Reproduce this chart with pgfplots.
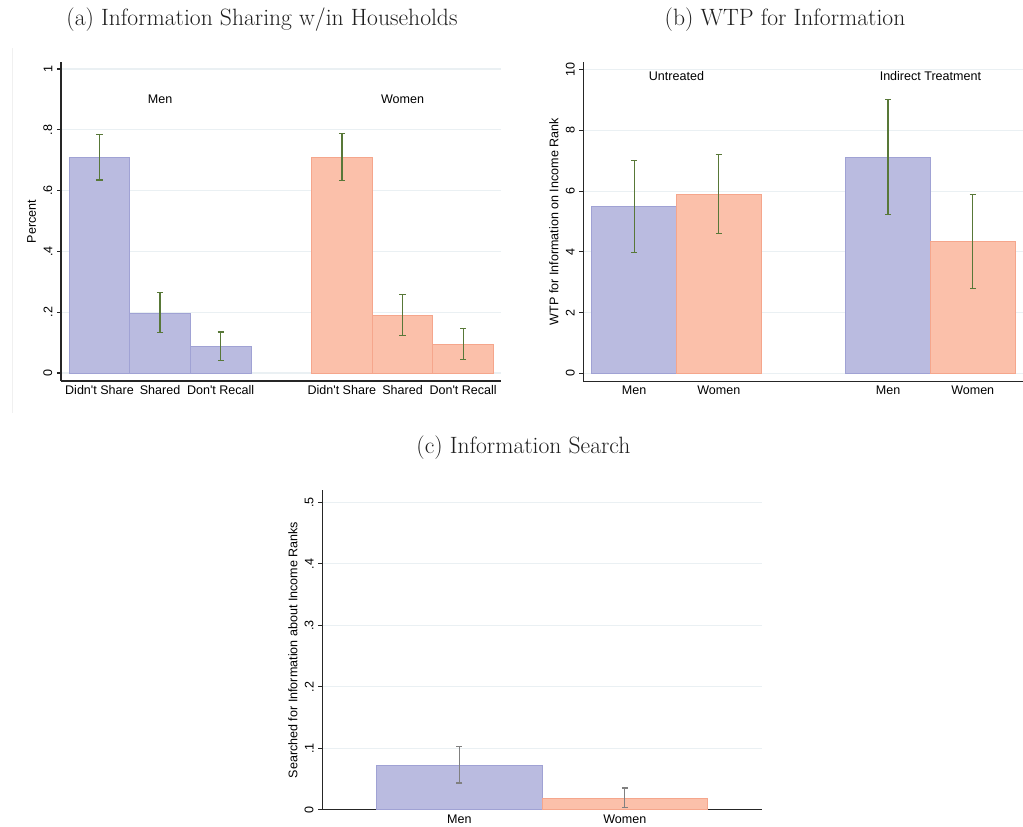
\documentclass[border=0pt]{standalone}
\usepackage{fontspec}
\usepackage{pgfplots}
\pgfplotsset{compat=1.18}
\newfontfamily\sansf[Ligatures=TeXOff]{Liberation Sans}
\definecolor{barblue}{RGB}{186,187,224}
\definecolor{edgeblue}{RGB}{160,162,212}
\definecolor{barsalmon}{RGB}{251,192,170}
\definecolor{edgesalmon}{RGB}{245,166,140}
\definecolor{errgreen}{RGB}{88,120,56}
\definecolor{errgray}{RGB}{128,128,128}
\definecolor{gridc}{RGB}{234,240,243}
\definecolor{titlec}{RGB}{30,30,30}
\pgfplotsset{
  stata/.style={
    scale only axis,
    anchor=south west,
    font=\sansf\fontsize{9.4}{11}\selectfont,
    axis x line*=bottom, axis y line*=left,
    axis line style={-, line width=0.8pt, black!85},
    ymajorgrids, grid style={gridc, line width=0.8pt},
    tick align=outside, major tick length=3pt,
    ytick style={black!85, line width=0.8pt},
    xtick style={draw=none},
    yticklabel style={rotate=90, anchor=south},
    xticklabel style={yshift=3pt},
    every axis y label/.style={at={(axis description cs:0,0.5)}, xshift=-22pt, rotate=90, anchor=center},
  },
  mybar/.style={ybar, bar width=1, bar shift=0pt, line width=0.6pt,
    error bars/y dir=both, error bars/y explicit,
    error bars/error bar style={#1, line width=0.9pt},
    error bars/error mark options={rotate=90, mark size=2.3pt, #1, line width=0.9pt}},
}
\begin{document}
\begin{tikzpicture}
\path[use as bounding box] (0,0) rectangle (767.25pt,619.5pt);
% faint panel border
\draw[black!6, line width=0.75pt] (9pt,309.75pt) -- (9pt,583.5pt);
% titles
\node[font=\fontsize{17.7}{20}\selectfont, text=titlec] at (196.5pt,604.5pt) {(a) Information Sharing w/in Households};
\node[font=\fontsize{17.7}{20}\selectfont, text=titlec] at (588.75pt,604.5pt) {(b) WTP for Information};
\node[font=\fontsize{17.7}{20}\selectfont, text=titlec] at (392.6pt,283.5pt) {(c) Information Search};

% (a)
\begin{axis}[stata, at={(45.75pt,333.75pt)}, width=330pt, height=239.25pt,
  xmin=-0.635, xmax=6.625, ymin=-0.0263, ymax=1.023,
  ytick={0,0.2,0.4,0.6,0.8,1}, yticklabels={0,.2,.4,.6,.8,1},
  xtick={0,1,2,4,5,6},
  xticklabels={Didn't Share,Shared,Don't Recall,Didn't Share,Shared,Don't Recall},
  ylabel={Percent}]
\addplot[mybar=errgreen, fill=barblue, draw=edgeblue] coordinates {
  (0,0.709) += (0,0.075) -= (0,0.074)
  (1,0.197) += (0,0.067) -= (0,0.064)
  (2,0.087) += (0,0.048) -= (0,0.045)};
\addplot[mybar=errgreen, fill=barsalmon, draw=edgesalmon] coordinates {
  (4,0.709) += (0,0.078) -= (0,0.076)
  (5,0.190) += (0,0.069) -= (0,0.066)
  (6,0.094) += (0,0.052) -= (0,0.049)};
\node at (axis cs:1,0.9) {Men};
\node at (axis cs:5,0.9) {Women};
\end{axis}

% (b)
\begin{axis}[stata, at={(437.5pt,333.5pt)}, width=329.5pt, height=239.5pt,
  xmin=-0.6, xmax=4.59, ymin=-0.263, ymax=10.25,
  ytick={0,2,4,6,8,10}, yticklabels={0,2,4,6,8,10},
  xtick={0,1,3,4}, xticklabels={Men,Women,Men,Women},
  ylabel={WTP for Information on Income Rank}]
\addplot[mybar=errgreen, fill=barblue, draw=edgeblue] coordinates {
  (0,5.49) += (0,1.51) -= (0,1.51)
  (3,7.10) += (0,1.92) -= (0,1.87)};
\addplot[mybar=errgreen, fill=barsalmon, draw=edgesalmon] coordinates {
  (1,5.90) += (0,1.30) -= (0,1.29)
  (4,4.34) += (0,1.56) -= (0,1.54)};
\node at (axis cs:0.5,9.8) {Untreated};
\node at (axis cs:3.5,9.8) {Indirect Treatment};
\end{axis}

% (c)
\begin{axis}[stata, at={(241.7pt,12.1pt)}, width=329.6pt, height=239.8pt,
  xmin=-0.828, xmax=1.827, ymin=0, ymax=0.52,
  ytick={0,0.1,0.2,0.3,0.4,0.5}, yticklabels={0,.1,.2,.3,.4,.5},
  xtick={0,1}, xticklabels={Men,Women},
  ylabel={Searched for Information about Income Ranks}]
\addplot[mybar=errgray, fill=barblue, draw=edgeblue] coordinates {
  (0,0.0727) += (0,0.030) -= (0,0.029)};
\addplot[mybar=errgray, fill=barsalmon, draw=edgesalmon] coordinates {
  (1,0.0185) += (0,0.017) -= (0,0.0146)};
\end{axis}
\end{tikzpicture}
\end{document}
